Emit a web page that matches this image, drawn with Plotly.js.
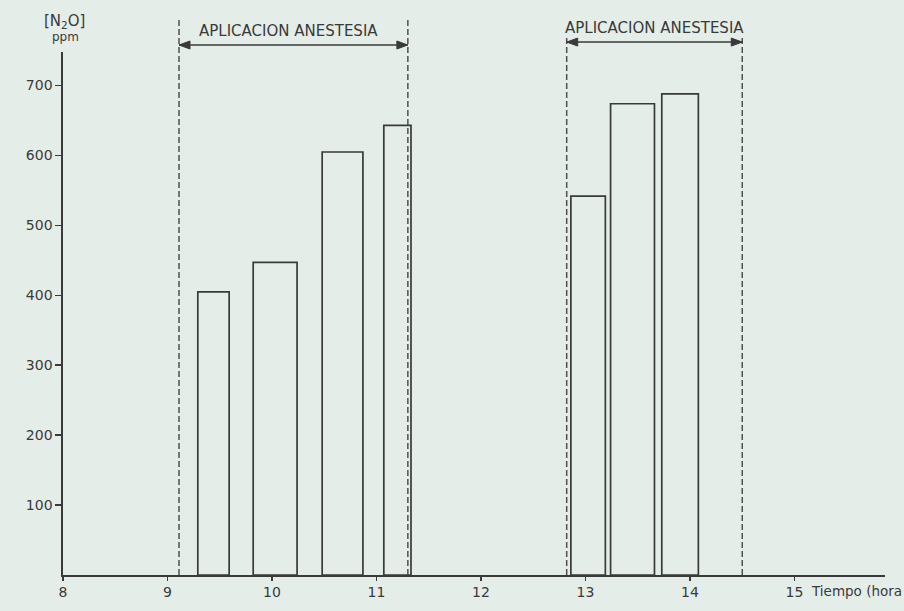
<!DOCTYPE html>
<html>
<head>
<meta charset="utf-8">
<script src="https://cdn.plot.ly/plotly-3.0.1.min.js"></script>
<style>html,body{margin:0;padding:0;background:#e4ede8;}#chart{width:904px;height:611px;}</style>
</head>
<body>
<div id="chart"></div>
<script>
// Data (time in hours, N2O in ppm)
const barStart = [9.29, 9.82, 10.48, 11.07, 12.86, 13.24, 13.73];
const barEnd   = [9.59, 10.24, 10.87, 11.33, 13.19, 13.66, 14.08];
const n2oPpm   = [405, 447, 605, 643, 542, 674, 688];
const anesthesiaStart = [9.11, 12.82];
const anesthesiaEnd   = [11.30, 14.50];
const anesthesiaLabel = ["APLICACION ANESTESIA", "APLICACION ANESTESIA"];
const xTicks = [8, 9, 10, 11, 12, 13, 14, 15];
const yTicks = [100, 200, 300, 400, 500, 600, 700];

const ink = '#3a3a3a';
const fontFam = 'DejaVu Sans, Liberation Sans, sans-serif';

const centers = barStart.map((s, i) => (s + barEnd[i]) / 2);
const widths = barStart.map((s, i) => barEnd[i] - s);

const trace = {
  type: 'bar',
  x: centers,
  y: n2oPpm,
  width: widths,
  marker: {color: 'rgba(0,0,0,0)', line: {color: ink, width: 1.7}},
  hoverinfo: 'x+y'
};

const lineTops = [1.061, 1.029];
const arrowY = [1.0134, 1.019];
const textY = [1.041, 1.045];
const textShift = [-5, 0];

const shapes = [];
const annotations = [];
anesthesiaStart.forEach((s, i) => {
  const e = anesthesiaEnd[i];
  [s, e].forEach(xv => {
    shapes.push({type: 'line', xref: 'x', yref: 'paper', x0: xv, x1: xv, y0: 0, y1: lineTops[i],
      line: {color: '#505050', width: 1.5, dash: '6px,3px'}});
  });
  // double-headed arrow: shaft + two filled heads
  shapes.push({type: 'line', xref: 'x', yref: 'paper', x0: s, x1: e, y0: arrowY[i], y1: arrowY[i],
    line: {color: ink, width: 1.6}});
  shapes.push({type: 'path', xref: 'x', yref: 'paper', xsizemode: 'pixel', ysizemode: 'pixel',
    xanchor: s, yanchor: arrowY[i], path: 'M0,0 L11,4 L11,-4 Z',
    fillcolor: ink, line: {color: ink, width: 1}});
  shapes.push({type: 'path', xref: 'x', yref: 'paper', xsizemode: 'pixel', ysizemode: 'pixel',
    xanchor: e, yanchor: arrowY[i], path: 'M0,0 L-11,4 L-11,-4 Z',
    fillcolor: ink, line: {color: ink, width: 1}});
  annotations.push({xref: 'x', yref: 'paper', x: (s + e) / 2, xshift: textShift[i], y: textY[i],
    text: anesthesiaLabel[i], showarrow: false, xanchor: 'center', yanchor: 'middle',
    font: {family: fontFam, size: 15, color: ink}});
});
annotations.push({xref: 'paper', yref: 'paper', x: 0.0024, y: 1.058, xanchor: 'center', yanchor: 'middle',
  text: '[N<sub>2</sub>O]', showarrow: false, font: {family: fontFam, size: 15, color: ink}});
annotations.push({xref: 'paper', yref: 'paper', x: 0.0036, y: 1.029, xanchor: 'center', yanchor: 'middle',
  text: 'ppm', showarrow: false, font: {family: fontFam, size: 12, color: ink}});
annotations.push({xref: 'paper', yref: 'paper', x: 0.908, y: -0.03, xanchor: 'left', yanchor: 'middle',
  text: 'Tiempo (hora', showarrow: false, font: {family: fontFam, size: 13.5, color: ink}});

const layout = {
  width: 904, height: 611,
  margin: {l: 63, r: 19, t: 52, b: 36, pad: 0},
  paper_bgcolor: '#e4ede8',
  plot_bgcolor: '#e4ede8',
  showlegend: false,
  xaxis: {range: [8, 15.866], tickvals: xTicks, ticktext: xTicks.map(String),
    showline: true, linecolor: ink, linewidth: 1.6, ticks: 'outside', ticklen: 4, tickwidth: 1.5,
    tickcolor: ink, showgrid: false, zeroline: false,
    tickfont: {family: fontFam, size: 14, color: ink}},
  yaxis: {range: [0, 748], tickvals: yTicks, ticktext: yTicks.map(String),
    showline: true, linecolor: ink, linewidth: 1.6, ticks: 'outside', ticklen: 6, tickwidth: 1.5,
    tickcolor: ink, showgrid: false, zeroline: false,
    tickfont: {family: fontFam, size: 14, color: ink}},
  shapes: shapes,
  annotations: annotations
};

Plotly.newPlot('chart', [trace], layout, {displayModeBar: false, staticPlot: true});
</script>
</body>
</html>
